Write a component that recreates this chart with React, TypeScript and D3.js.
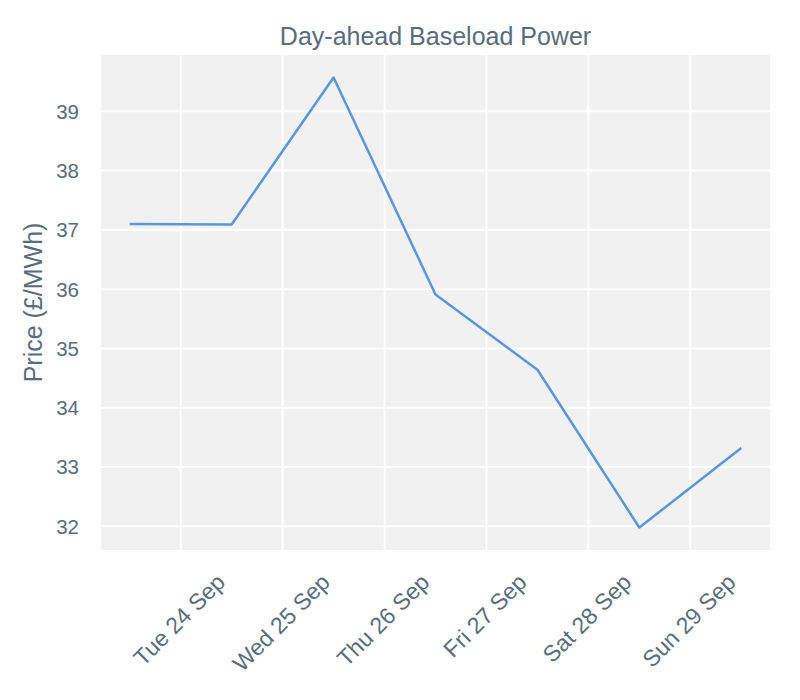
import { useEffect, useRef } from "react";
import * as d3 from "d3";

// Day-ahead baseload price, one value per delivery day (noon)
const days: string[] = [
  "2019-09-23",
  "2019-09-24",
  "2019-09-25",
  "2019-09-26",
  "2019-09-27",
  "2019-09-28",
  "2019-09-29",
];
const prices: number[] = [37.1, 37.09, 39.57, 35.91, 34.64, 31.98, 33.32];
const yTicks: number[] = [32, 33, 34, 35, 36, 37, 38, 39];
const xTickDays: string[] = [
  "2019-09-24",
  "2019-09-25",
  "2019-09-26",
  "2019-09-27",
  "2019-09-28",
  "2019-09-29",
];

const TEXT = "#5a6c7c";
const LINE = "#5b97d6";
const FONT = "'Liberation Sans', Arial, sans-serif";

const App = () => {
  const svgRef = useRef<SVGSVGElement>(null);

  useEffect(() => {
    if (!svgRef.current) return;
    const width = 800;
    const height = 700;
    const margin = { top: 55, right: 30, bottom: 150, left: 101 };
    const innerW = width - margin.left - margin.right;
    const innerH = height - margin.top - margin.bottom;

    const points = days.map((d, i) => ({
      date: new Date(d + "T12:00:00Z"),
      value: prices[i],
    }));

    // matplotlib-like 5% padding
    const [t0, t1] = d3.extent(points, (p) => +p.date) as [number, number];
    const tPad = (t1 - t0) * 0.047;
    const x = d3
      .scaleUtc()
      .domain([new Date(t0 - tPad), new Date(t1 + tPad)])
      .range([0, innerW]);

    const [v0, v1] = d3.extent(prices) as [number, number];
    const vPad = (v1 - v0) * 0.05;
    const y = d3
      .scaleLinear()
      .domain([v0 - vPad, v1 + vPad])
      .range([innerH, 0]);

    const root = d3.select(svgRef.current);
    root.selectAll("*").remove();

    const g = root
      .append("g")
      .attr("transform", `translate(${margin.left},${margin.top})`);

    g.append("rect")
      .attr("width", innerW)
      .attr("height", innerH)
      .attr("fill", "#f1f1f1");

    const xTicks = xTickDays.map((d) => new Date(d + "T00:00:00Z"));

    // grid
    g.append("g")
      .selectAll("line")
      .data(xTicks)
      .join("line")
      .attr("x1", (d) => x(d))
      .attr("x2", (d) => x(d))
      .attr("y1", 0)
      .attr("y2", innerH)
      .attr("stroke", "#ffffff")
      .attr("stroke-width", 2);

    g.append("g")
      .selectAll("line")
      .data(yTicks)
      .join("line")
      .attr("x1", 0)
      .attr("x2", innerW)
      .attr("y1", (d) => y(d))
      .attr("y2", (d) => y(d))
      .attr("stroke", "#ffffff")
      .attr("stroke-width", 2);

    // y tick labels
    g.append("g")
      .selectAll("text")
      .data(yTicks)
      .join("text")
      .attr("x", -22)
      .attr("y", (d) => y(d))
      .attr("dy", "0.36em")
      .attr("text-anchor", "end")
      .style("font-family", FONT)
      .style("font-size", "20.5px")
      .style("fill", TEXT)
      .text((d) => d);

    // x tick labels, rotated 45deg, top aligned
    const fmt = d3.utcFormat("%a %d Sep");
    const fs = 23;
    const labelTop = innerH + 22;
    const xl = g
      .append("g")
      .selectAll<SVGTextElement, Date>("text")
      .data(xTicks)
      .join("text")
      .attr("text-anchor", "middle")
      .attr("dy", "0.35em")
      .style("font-family", FONT)
      .style("font-size", `${fs}px`)
      .style("fill", TEXT)
      .text((d) => fmt(d));
    xl.each(function (d) {
      const w = this.getComputedTextLength();
      const cy = labelTop + Math.SQRT1_2 * (w / 2 + 0.366 * fs);
      const cx = x(d) - 1.5;
      d3.select(this)
        .attr("x", cx)
        .attr("y", cy)
        .attr("transform", `rotate(-45,${cx},${cy})`);
    });

    // line
    const line = d3
      .line<{ date: Date; value: number }>()
      .x((p) => x(p.date))
      .y((p) => y(p.value));

    g.append("path")
      .datum(points)
      .attr("d", line)
      .attr("fill", "none")
      .attr("stroke", LINE)
      .attr("stroke-width", 2.5)
      .attr("stroke-linejoin", "round");

    // title
    g.append("text")
      .attr("x", innerW / 2)
      .attr("y", -10.5)
      .attr("text-anchor", "middle")
      .style("font-family", FONT)
      .style("font-size", "25px")
      .style("fill", TEXT)
      .text("Day-ahead Baseload Power");

    // y label
    g.append("text")
      .attr("transform", `translate(${-59},${innerH / 2}) rotate(-90)`)
      .attr("text-anchor", "middle")
      .style("font-family", FONT)
      .style("font-size", "25px")
      .style("fill", TEXT)
      .text("Price (£/MWh)");
  }, []);

  return (
    <svg
      ref={svgRef}
      width={800}
      height={700}
      style={{ position: "absolute", left: 0, top: 0, background: "#ffffff" }}
    />
  );
};

export default App;
